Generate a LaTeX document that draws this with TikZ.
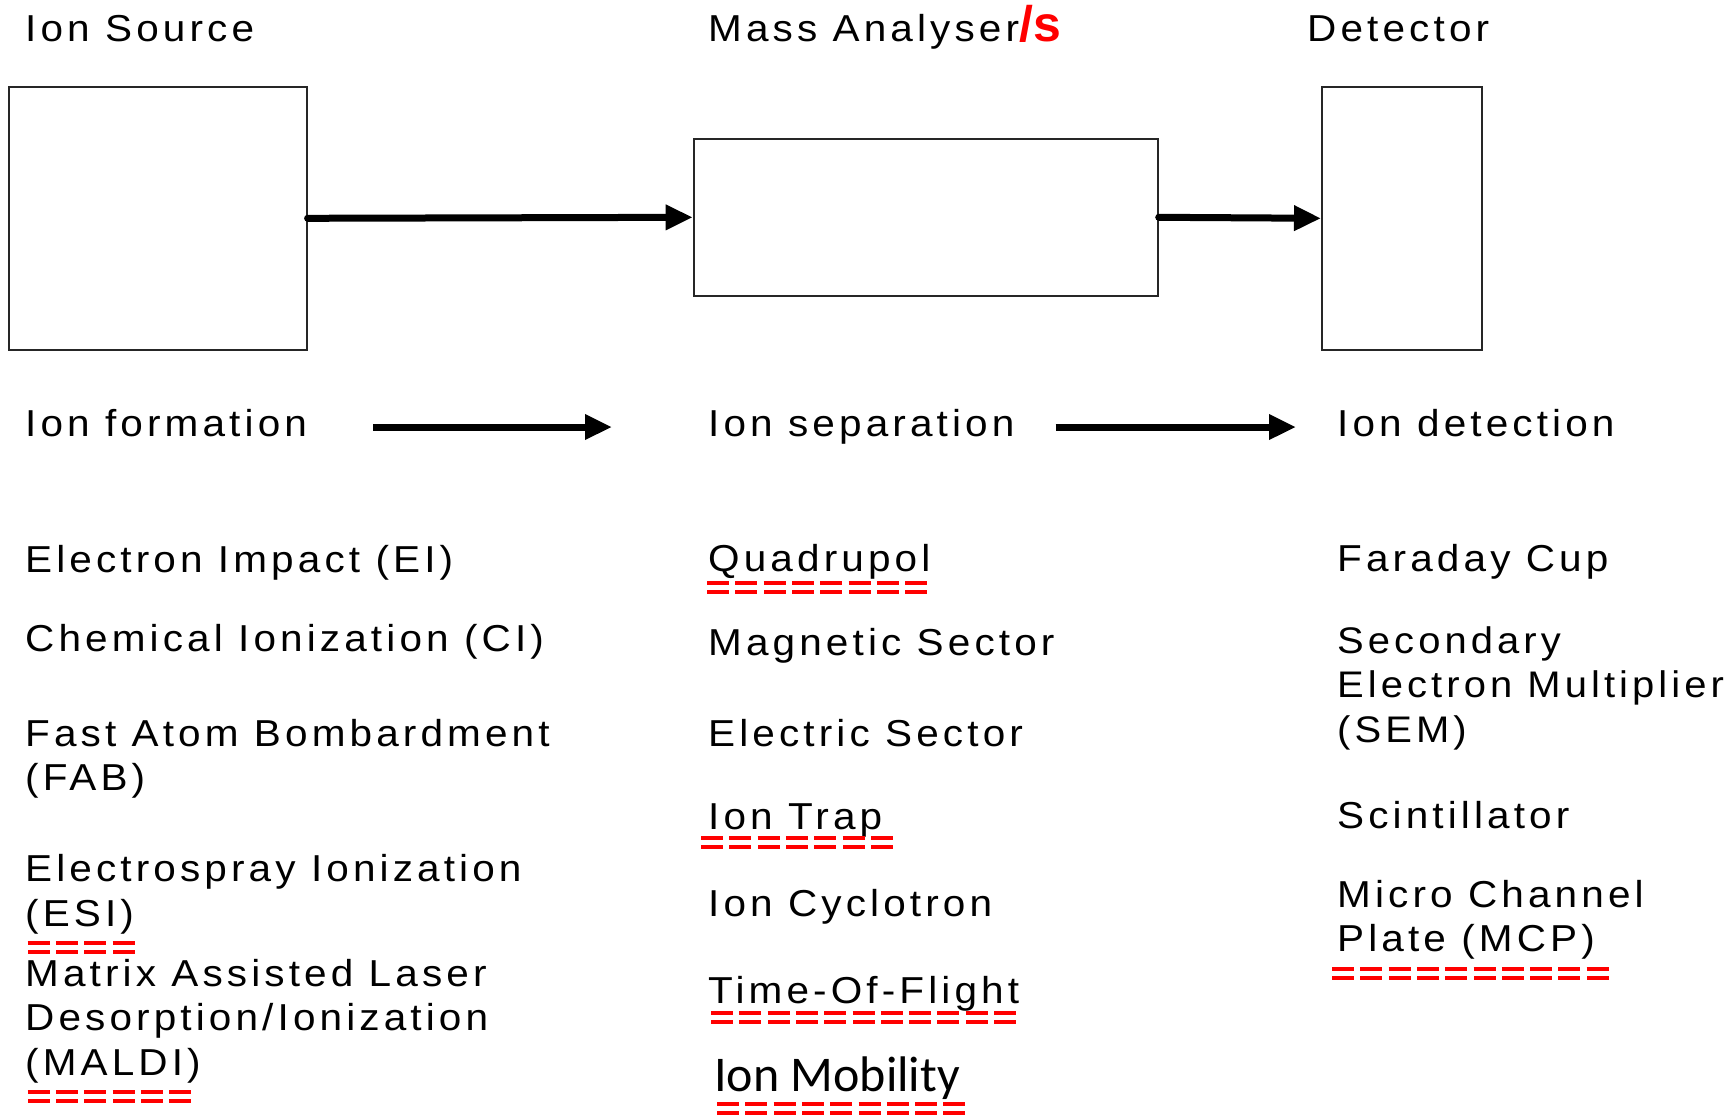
\documentclass[tikz,border=0pt]{standalone}
\usepackage{fontspec}
\setmainfont{Liberation Sans}[FakeStretch=1.08,LetterSpace=11]
\newfontfamily\mobfont{Carlito}
\newfontfamily\slashfont{Liberation Sans}
\usetikzlibrary{arrows.meta}

\tikzset{
  blk/.style={draw=black!85, line width=2pt, inner sep=0pt},
  flow/.style={line width=7pt, line cap=round, -{Triangle[length=27pt,width=24pt]}},
  lbl/.style={anchor=base west, inner sep=0pt, align=left,
    font=\fontsize{37.5}{44.5}\selectfont},
  stage/.style={lbl, text height=27pt, text depth=8pt},
  ul/.style={draw=red, line width=4pt, double=white, double distance=5pt,
    dash pattern=on 22pt off 6.3pt},
}

\begin{document}
\begin{tikzpicture}[x=1pt,y=-1pt]
  \useasboundingbox (0,0) rectangle (1729,1117);

  % the three blocks of the instrument
  \node[blk, minimum width=298pt, minimum height=263pt] (src) at (157.6,218.3) {};
  \node[blk, minimum width=464pt, minimum height=157pt] (ana) at (925.7,217.3) {};
  \node[blk, minimum width=160pt, minimum height=263pt] (det) at (1402,218.3) {};
  \draw[flow] (src.east) -- (ana.west);
  \draw[flow] (ana.east) -- (det.west);

  % headers
  \node[lbl] (hsrc) at (25,41) {Ion Source};
  \node[lbl] (hana) at (708,41) {Mass Analyser{\slashfont\bfseries\color{red}\fontsize{50}{50}\selectfont/s}};
  \node[lbl] (hdet) at (1307,41) {Detector};

  % what each stage does
  \node[stage] (form) at (25,436.5) {Ion formation};
  \node[stage] (sep) at (708,436.5) {Ion separation};
  \node[stage] (detn) at (1337,436.5) {Ion detection};
  \draw[flow, line cap=butt, shorten <=66pt, shorten >=96pt] (form.east) -- (sep.west);
  \draw[flow, line cap=butt, shorten <=41pt, shorten >=41pt] (sep.east) -- (detn.west);

  % ion sources (base is the last line)
  \node[lbl] (ei) at (25,572) {Electron Impact (EI)};
  \node[lbl] (ci) at (25,651.6) {Chemical Ionization (CI)};
  \node[lbl] (fab) at (25,790.5) {Fast Atom Bombardment\\(FAB)};
  \node[lbl] (esi) at (25,926) {Electrospray Ionization\\(ESI)};
  \node[lbl] (maldi) at (25,1075) {Matrix Assisted Laser\\Desorption/Ionization\\(MALDI)};

  % analysers
  \node[lbl] (quad) at (708,571) {Quadrupol};
  \node[lbl] (mag) at (708,655) {Magnetic Sector};
  \node[lbl] (elec) at (708,746) {Electric Sector};
  \node[lbl] (trap) at (708,829) {Ion Trap};
  \node[lbl] (icr) at (708,916) {Ion Cyclotron};
  \node[lbl] (tof) at (708,1003) {Time-Of-Flight};
  \node[lbl, font=\mobfont\fontsize{50}{50}\selectfont] (mob) at (714,1091) {Ion Mobility};

  % detectors
  \node[lbl] (fc) at (1337,571) {Faraday Cup};
  \node[lbl, font=\fontsize{37}{44.5}\selectfont] (sem) at (1337,742) {Secondary\\Electron Multiplier\\(SEM)};
  \node[lbl] (scint) at (1337,828) {Scintillator};
  \node[lbl] (mcp) at (1337,951.5) {Micro Channel\\Plate (MCP)};

  % red double underlines
  \draw[ul] (707,587.5) -- ++(220.1,0);
  \draw[ul] (701,842) -- ++(191.8,0);
  \draw[ul] (711,1017) -- ++(305,0);
  \draw[ul] (717,1108) -- ++(248.4,0);
  \draw[ul] (27.6,947) -- ++(106.9,0);
  \draw[ul] (27.6,1096) -- ++(163.5,0);
  \draw[ul] (1332,973.5) -- ++(276.7,0);
\end{tikzpicture}
\end{document}
